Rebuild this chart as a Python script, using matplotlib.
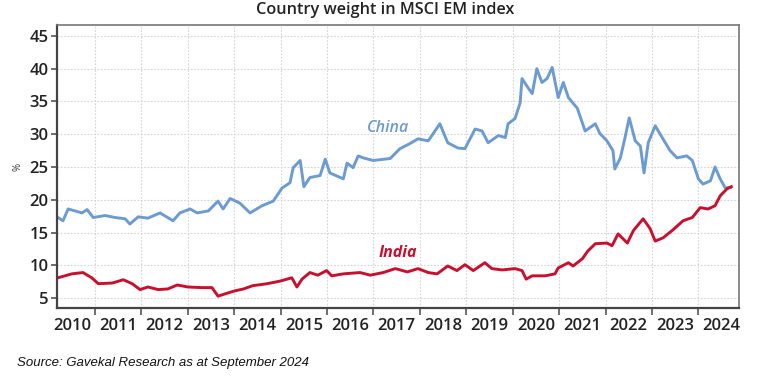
import matplotlib
matplotlib.use("Agg")
import matplotlib.pyplot as plt
from matplotlib.ticker import FixedLocator, NullFormatter

# Dates as decimal years
china_t = [2010.20, 2010.31, 2010.42, 2010.57, 2010.72, 2010.83, 2010.96, 2011.22, 2011.43,
           2011.65, 2011.75, 2011.93, 2012.14, 2012.40, 2012.68, 2012.83, 2013.05, 2013.20,
           2013.44, 2013.65, 2013.76, 2013.91, 2014.12, 2014.34, 2014.60, 2014.84, 2015.03,
           2015.20, 2015.27, 2015.42, 2015.50, 2015.63, 2015.85, 2015.96, 2016.06, 2016.35,
           2016.43, 2016.56, 2016.67, 2016.78, 2016.99, 2017.36, 2017.57, 2017.79, 2017.96,
           2018.18, 2018.43, 2018.60, 2018.82, 2018.97, 2019.19, 2019.34, 2019.47, 2019.69,
           2019.84, 2019.90, 2020.05, 2020.16, 2020.20, 2020.33, 2020.42, 2020.52, 2020.63,
           2020.74, 2020.85, 2020.98, 2021.09, 2021.20, 2021.34, 2021.39, 2021.56, 2021.78,
           2021.88, 2022.03, 2022.16, 2022.20, 2022.32, 2022.42, 2022.51, 2022.64, 2022.75,
           2022.83, 2022.92, 2023.07, 2023.22, 2023.39, 2023.54, 2023.75, 2023.87, 2024.00,
           2024.10, 2024.26, 2024.36, 2024.47, 2024.58, 2024.69]
china_v = [17.3, 16.8, 18.6, 18.3, 18.0, 18.5, 17.3, 17.6, 17.3,
           17.1, 16.3, 17.4, 17.2, 18.0, 16.8, 18.0, 18.6, 18.0,
           18.3, 19.8, 18.6, 20.2, 19.5, 18.0, 19.1, 19.8, 21.8,
           22.6, 24.9, 26.0, 22.0, 23.4, 23.7, 26.2, 24.1, 23.2,
           25.6, 24.9, 26.7, 26.4, 26.0, 26.3, 27.8, 28.6, 29.3,
           29.0, 31.6, 28.7, 27.9, 27.8, 30.8, 30.5, 28.7, 29.8,
           29.5, 31.6, 32.4, 34.8, 38.5, 37.1, 36.2, 40.0, 37.9,
           38.5, 40.2, 35.6, 37.9, 35.6, 34.4, 34.0, 30.5, 31.6,
           30.1, 29.0, 27.5, 24.7, 26.4, 29.5, 32.5, 29.0, 28.2,
           24.1, 28.7, 31.3, 29.5, 27.5, 26.4, 26.7, 26.0, 23.2,
           22.4, 22.9, 25.0, 23.2, 21.8, 21.9]

india_t = [2010.20, 2010.50, 2010.74, 2010.93, 2011.07, 2011.37, 2011.61, 2011.80, 2011.97,
           2012.14, 2012.36, 2012.57, 2012.77, 2013.00, 2013.30, 2013.52, 2013.65, 2013.87,
           2014.01, 2014.20, 2014.40, 2014.71, 2014.99, 2015.24, 2015.35, 2015.46, 2015.63,
           2015.80, 2015.99, 2016.10, 2016.35, 2016.71, 2016.93, 2017.21, 2017.47, 2017.73,
           2017.96, 2018.18, 2018.37, 2018.60, 2018.80, 2018.97, 2019.15, 2019.40, 2019.55,
           2019.77, 2020.05, 2020.20, 2020.29, 2020.42, 2020.70, 2020.91, 2020.98, 2021.20,
           2021.30, 2021.50, 2021.62, 2021.78, 2022.03, 2022.14, 2022.27, 2022.47, 2022.60,
           2022.81, 2022.96, 2023.07, 2023.24, 2023.45, 2023.67, 2023.87, 2024.04, 2024.21,
           2024.36, 2024.47, 2024.62, 2024.71]
india_v = [8.1, 8.7, 8.9, 8.1, 7.2, 7.3, 7.8, 7.2, 6.3,
           6.7, 6.3, 6.4, 7.0, 6.7, 6.6, 6.6, 5.3, 5.8,
           6.1, 6.4, 6.9, 7.2, 7.6, 8.1, 6.7, 7.9, 8.9,
           8.5, 9.2, 8.4, 8.7, 8.9, 8.5, 8.9, 9.5, 9.0,
           9.5, 8.9, 8.7, 9.9, 9.2, 10.1, 9.2, 10.4, 9.5,
           9.3, 9.5, 9.2, 7.9, 8.4, 8.4, 8.7, 9.6, 10.4,
           9.9, 11.0, 12.2, 13.3, 13.4, 13.0, 14.8, 13.4, 15.3,
           17.1, 15.6, 13.7, 14.2, 15.4, 16.8, 17.3, 18.8, 18.6,
           19.1, 20.6, 21.7, 22.0]

years = list(range(2010, 2025))
year_labels = [str(y) for y in years]
y_ticks = [5, 10, 15, 20, 25, 30, 35, 40, 45]

china_color = "#6b9bd1"
india_color = "#c8102e"

plt.rcParams['font.family'] = ['Open Sans', 'DejaVu Sans']

fig = plt.figure(figsize=(7.7, 3.76), dpi=100)
ax = fig.add_axes([0.074, 0.181, 0.886, 0.753])

ax.plot(china_t, china_v, color=china_color, lw=2.1, solid_joinstyle='round')
ax.plot(india_t, india_v, color=india_color, lw=2.1, solid_joinstyle='round')

ax.set_xlim(2010.18, 2024.88)
ax.set_ylim(3.5, 46.7)

ax.xaxis.set_major_locator(FixedLocator([y for y in years[1:]]))
ax.xaxis.set_major_formatter(NullFormatter())
ax.set_xticks([y + 0.5 for y in years], minor=True)
ax.set_xticklabels(year_labels, minor=True, fontweight='semibold')
ax.tick_params(axis='x', which='minor', length=0, labelsize=12, pad=7, colors='#222222')
ax.tick_params(axis='x', which='major', length=5, width=1.2, color='#555555', direction='out')

ax.set_yticks(y_ticks)
ax.set_yticklabels([str(v) for v in y_ticks], fontweight='semibold')
ax.tick_params(axis='y', length=4, width=1.2, labelsize=12, colors='#222222', pad=2)
ax.tick_params(axis='y', color='#555555')

ax.grid(True, which='major', color='#d4d4d4', linestyle=(0, (1.5, 1.5)), linewidth=0.8)

for side in ['left', 'bottom']:
    ax.spines[side].set_color('#444444')
    ax.spines[side].set_linewidth(1.6)
for side in ['top', 'right']:
    ax.spines[side].set_color('#777777')
    ax.spines[side].set_linewidth(1.2)

ax.text(2017.31, 30.9, "China", color=china_color, style='italic', fontsize=11.5,
        ha='center', va='center', fontweight='semibold')
ax.text(2017.53, 11.9, "India", color=india_color, style='italic', fontsize=11.5,
        ha='center', va='center', fontweight='bold')

fig.text(0.5, 0.973, "Country weight in MSCI EM index", ha='center', va='center',
         fontsize=11.7, color='#222222', fontweight='semibold')
fig.text(0.024, 0.556, "%", rotation=90, ha='center', va='center', fontsize=7, color='#333333')
fig.text(0.022, 0.034, "Source: Gavekal Research as at September 2024", ha='left', va='center',
         fontsize=9.5, style='italic', family=['Liberation Sans', 'DejaVu Sans'], color='#111111')

fig.savefig("out.png", dpi=100)
